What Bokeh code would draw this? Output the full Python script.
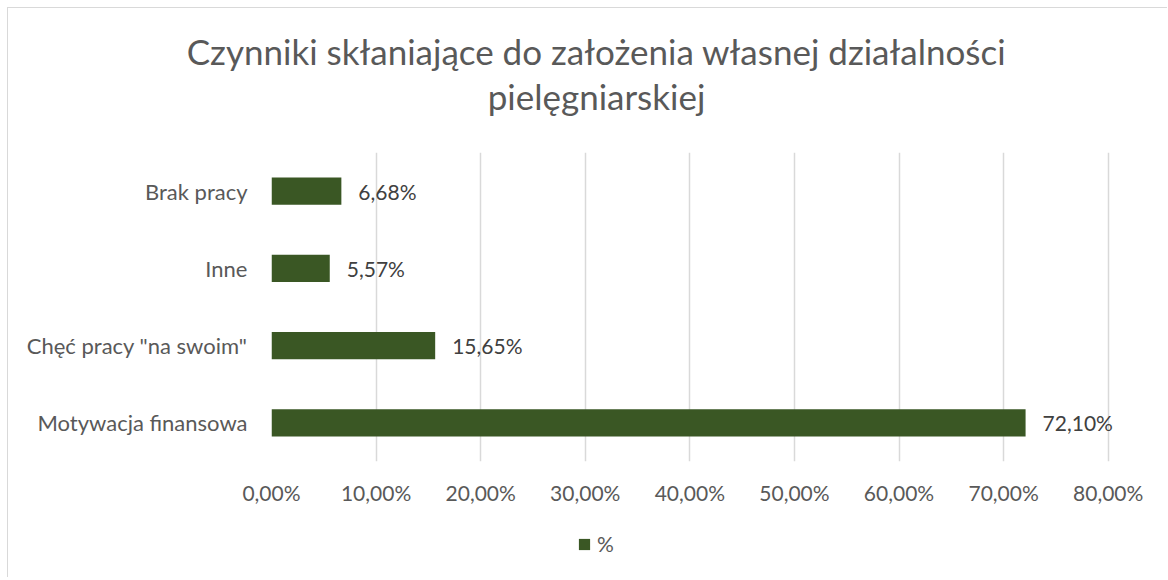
from bokeh.plotting import figure
from bokeh.layouts import column
from bokeh.models import (Range1d, FactorRange, FixedTicker, Legend, LegendItem,
                          ColumnDataSource)
from bokeh.core.properties import value
from bokeh.embed import file_html
from bokeh.resources import INLINE

# ---- data ----
categories = ["Motywacja finansowa", "Chęć pracy \"na swoim\"", "Inne", "Brak pracy"]
percent = [72.10, 15.65, 5.57, 6.68]
x_ticks = [0, 10, 20, 30, 40, 50, 60, 70, 80]
x_tick_labels = ["0,00%", "10,00%", "20,00%", "30,00%", "40,00%",
                 "50,00%", "60,00%", "70,00%", "80,00%"]
series_name = "%"
title_lines = ["Czynniki skłaniające do założenia własnej działalności",
               "pielęgniarskiej"]

value_labels = [("%.2f" % v).replace(".", ",") + "%" for v in percent]

FONT = "Lato"
BAR = "#3A5724"
GREY = "#595959"
W = 1159

# ---- title strip ----
tp = figure(width=W, height=136, output_backend="svg", toolbar_location=None,
            x_range=Range1d(0, W), y_range=Range1d(136, 0),
            x_axis_type=None, y_axis_type=None, min_border=0)
tp.frame_align = False
tp.title = None
tp.outline_line_color = None
tp.xgrid.visible = False
tp.ygrid.visible = False
tp.text(x=[588, 588], y=[42, 87], text=title_lines, text_align="center",
        text_baseline="middle", text_color=GREY, text_font=value(FONT),
        text_font_size="35px")

# ---- main chart ----
src = ColumnDataSource(dict(cat=categories, val=percent, lab=value_labels))

p = figure(width=W, height=381, output_backend="svg", toolbar_location=None,
           y_range=FactorRange(*categories, range_padding=0),
           x_range=Range1d(0, 85),
           min_border_left=263, min_border_right=7,
           min_border_top=8, min_border_bottom=64)
p.frame_align = False
p.title = None
p.outline_line_color = None

bars = p.hbar(y="cat", right="val", left=0, height=0.35, source=src,
              fill_color=BAR, line_color=None)
p.text(x="val", y="cat", text="lab", source=src, x_offset=17,
       text_baseline="middle", text_align="left", text_color="#404040",
       text_font=value(FONT), text_font_size="21px")

p.xaxis.ticker = FixedTicker(ticks=x_ticks)
p.xaxis.major_label_overrides = {t: l for t, l in zip(x_ticks, x_tick_labels)}
for ax in (p.xaxis, p.yaxis):
    ax.axis_line_color = None
    ax.major_tick_line_color = None
    ax.minor_tick_line_color = None
    ax.major_label_text_color = GREY
    ax.major_label_text_font = FONT
p.xaxis.major_label_text_font_size = "21px"
p.yaxis.major_label_text_font_size = "22px"
p.xaxis.major_label_standoff = 12
p.yaxis.major_label_standoff = 18

p.xgrid.grid_line_color = "#D9D9D9"
p.xgrid.grid_line_width = 1.5
p.ygrid.grid_line_color = None

# ---- legend strip (swatch renderer lies outside its visible range) ----
lp = figure(width=W, height=52, output_backend="svg", toolbar_location=None,
            x_range=Range1d(-2, -1), y_range=FactorRange(*categories),
            x_axis_type=None, y_axis_type=None, min_border=0)
lp.frame_align = False
lp.title = None
lp.outline_line_color = None
lp.xgrid.visible = False
lp.ygrid.visible = False
swatch = lp.hbar(y="cat", right="val", left=0, height=0.35, source=src,
                 fill_color=BAR, line_color=None)
legend = Legend(items=[LegendItem(label=series_name, renderers=[swatch])],
                orientation="horizontal", location=(569, 21),
                glyph_width=14, glyph_height=14, label_standoff=6,
                label_height=20, label_text_baseline="middle",
                label_text_font=FONT, label_text_font_size="21px",
                label_text_color=GREY, border_line_color=None,
                background_fill_alpha=0, margin=0, padding=0)
lp.add_layout(legend)

layout = column(tp, p, lp, spacing=0)
layout.styles = {"margin-left": "7px", "margin-top": "7px",
                 "border-left": "1px solid #D9D9D9",
                 "border-top": "1px solid #D9D9D9"}
open("out.html", "w").write(file_html(layout, INLINE))
